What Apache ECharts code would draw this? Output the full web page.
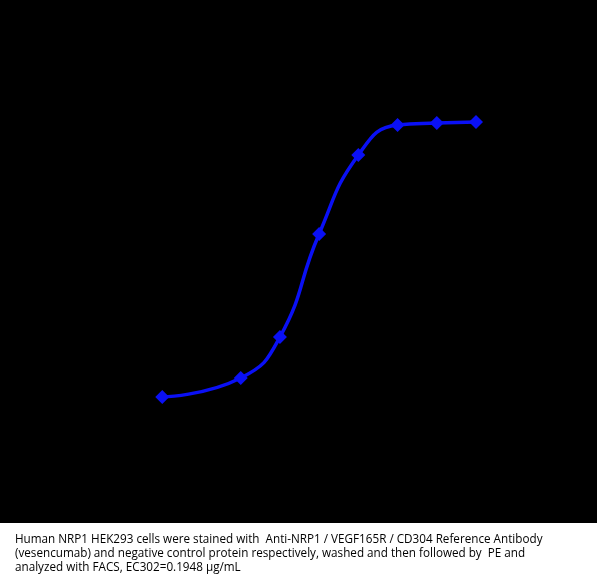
<!DOCTYPE html>
<html>
<head>
<meta charset="utf-8">
<script src="https://cdn.jsdelivr.net/npm/echarts@6/dist/echarts.min.js"></script>
<style>
  html, body { margin: 0; padding: 0; background: #fff; }
  #chart { width: 597px; height: 583px; }
</style>
</head>
<body>
<div id="chart"></div>
<script>
// concentration (ug/mL), 3-fold dilution
const concentrations = [0.00457, 0.0412, 0.1235, 0.37, 1.11, 3.33, 10, 30];
// signal (arbitrary MFI units)
const signal = [379, 547, 909, 1818, 2515, 2779, 2797, 2806];

const captionLines = [
  "Human NRP1 HEK293 cells were stained with  Anti-NRP1 / VEGF165R / CD304 Reference Antibody",
  "(vesencumab) and negative control protein respectively, washed and then followed by  PE and",
  "analyzed with FACS, EC302=0.1948 \u00b5g/mL"
];

const chart = echarts.init(document.getElementById("chart"));

const option = {
  backgroundColor: "#ffffff",
  animation: false,
  graphic: [
    {
      type: "rect",
      z: -10,
      silent: true,
      shape: { x: 0, y: 0, width: 597, height: 523 },
      style: { fill: "#000000" }
    },
    {
      type: "text",
      left: 15,
      top: 533,
      style: {
        text: captionLines.join("\n"),
        font: "11.7px 'Open Sans', sans-serif",
        lineHeight: 14,
        fill: "#000000"
      }
    }
  ],
  grid: {
    left: 108,
    right: 78,
    top: 100,
    bottom: 143
  },
  xAxis: {
    type: "log",
    min: 0.001,
    max: 100,
    show: false
  },
  yAxis: {
    type: "value",
    min: 0,
    max: 3000,
    show: false
  },
  series: [
    {
      type: "line",
      data: concentrations.map((c, i) => [c, signal[i]]),
      smooth: 0.5,
      symbol: "diamond",
      symbolSize: 14,
      lineStyle: { color: "#0a10f5", width: 3.5 },
      itemStyle: { color: "#0a10f5" }
    }
  ]
};

chart.setOption(option);
</script>
</body>
</html>
